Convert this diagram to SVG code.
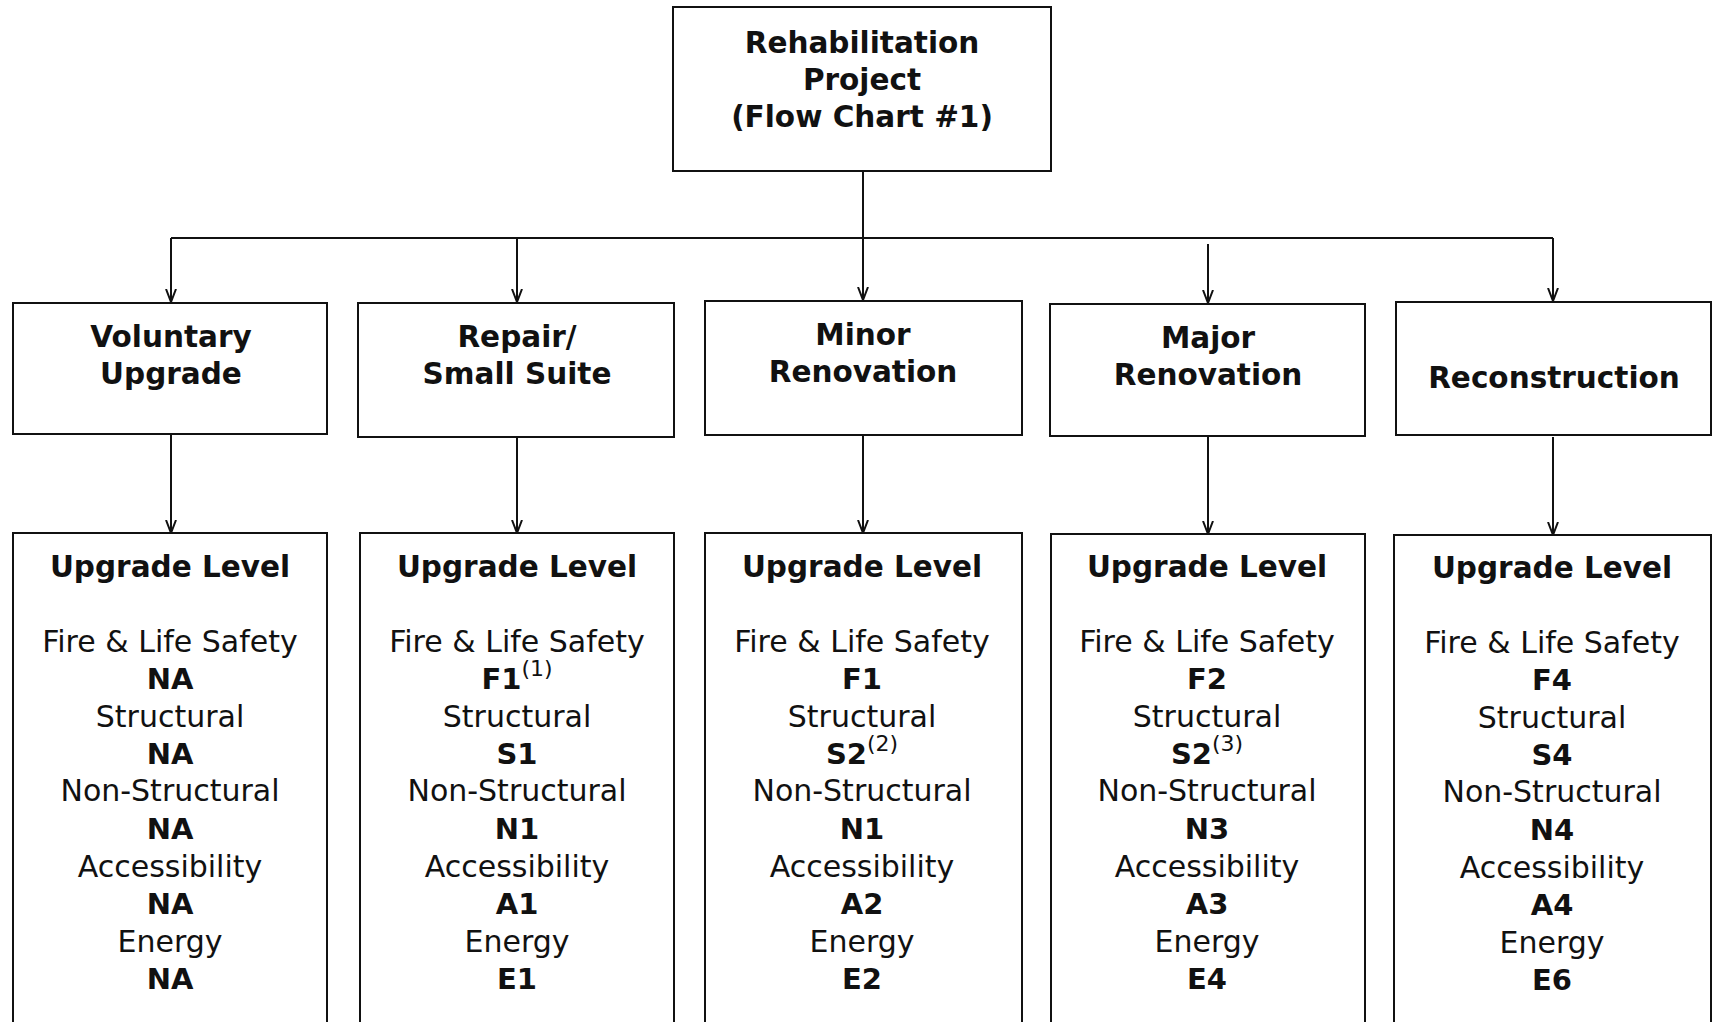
<svg xmlns="http://www.w3.org/2000/svg" width="1712" height="1022" viewBox="0 0 1712 1022">
<style>
.box{fill:#fff;stroke:#111;stroke-width:2}
.t{font-family:"DejaVu Sans","Liberation Sans",sans-serif;font-size:30px;fill:#111;text-anchor:middle}
.b{font-weight:bold;font-size:29px}
.h{font-size:29.5px}
.sup{font-size:22px;font-weight:normal}
.conn{fill:none;stroke:#111;stroke-width:2}
</style>
<defs>
<marker id="arr" markerUnits="userSpaceOnUse" viewBox="0 0 14 12" markerWidth="14" markerHeight="12" refX="13" refY="6" orient="auto">
<path d="M0,1 L13,6 L0,11" fill="none" stroke="#111" stroke-width="2"/>
</marker>
</defs>
<rect width="1712" height="1022" fill="#fff"/>
<g id="connectors">
<line class="conn" x1="863" y1="172" x2="863" y2="300" marker-end="url(#arr)"/>
<line class="conn" x1="171" y1="238" x2="1553" y2="238"/>
<line class="conn" x1="171" y1="238" x2="171" y2="302" marker-end="url(#arr)"/>
<line class="conn" x1="517" y1="238" x2="517" y2="302" marker-end="url(#arr)"/>
<line class="conn" x1="1208" y1="244" x2="1208" y2="303" marker-end="url(#arr)"/>
<line class="conn" x1="1553" y1="238" x2="1553" y2="301" marker-end="url(#arr)"/>
<line class="conn" x1="171" y1="435" x2="171" y2="533" marker-end="url(#arr)"/>
<line class="conn" x1="517" y1="437" x2="517" y2="533" marker-end="url(#arr)"/>
<line class="conn" x1="863" y1="435" x2="863" y2="533" marker-end="url(#arr)"/>
<line class="conn" x1="1208" y1="436" x2="1208" y2="534" marker-end="url(#arr)"/>
<line class="conn" x1="1553" y1="437" x2="1553" y2="535" marker-end="url(#arr)"/>
</g>
<g id="root">
<rect class="box" x="673" y="7" width="378" height="164"/>
<text class="t b h" x="862" y="53">Rehabilitation</text>
<text class="t b h" x="862" y="90">Project</text>
<text class="t b h" x="862" y="127">(Flow Chart #1)</text>
</g>
<g id="voluntary">
<rect class="box" x="13" y="303" width="314" height="131"/>
<text class="t b h" x="171" y="347">Voluntary</text>
<text class="t b h" x="171" y="384">Upgrade</text>
</g>
<g id="repair">
<rect class="box" x="358" y="303" width="316" height="134"/>
<text class="t b h" x="517" y="347">Repair/</text>
<text class="t b h" x="517" y="384">Small Suite</text>
</g>
<g id="minor">
<rect class="box" x="705" y="301" width="317" height="134"/>
<text class="t b h" x="863" y="345">Minor</text>
<text class="t b h" x="863" y="382">Renovation</text>
</g>
<g id="major">
<rect class="box" x="1050" y="304" width="315" height="132"/>
<text class="t b h" x="1208" y="348">Major</text>
<text class="t b h" x="1208" y="385">Renovation</text>
</g>
<g id="reconstruction">
<rect class="box" x="1396" y="302" width="315" height="133"/>
<text class="t b h" x="1554" y="388">Reconstruction</text>
</g>
<g id="level-voluntary">
<rect class="box" x="13" y="533" width="314" height="500"/>
<text class="t b h" x="170" y="577">Upgrade Level</text>
<text class="t" x="170" y="652">Fire &amp; Life Safety</text>
<text class="t b" x="170" y="689">NA</text>
<text class="t" x="170" y="727">Structural</text>
<text class="t b" x="170" y="764">NA</text>
<text class="t" x="170" y="801">Non-Structural</text>
<text class="t b" x="170" y="839">NA</text>
<text class="t" x="170" y="877">Accessibility</text>
<text class="t b" x="170" y="914">NA</text>
<text class="t" x="170" y="952">Energy</text>
<text class="t b" x="170" y="989">NA</text>
</g>
<g id="level-repair">
<rect class="box" x="360" y="533" width="314" height="500"/>
<text class="t b h" x="517" y="577">Upgrade Level</text>
<text class="t" x="517" y="652">Fire &amp; Life Safety</text>
<text class="t b" x="517" y="689">F1<tspan class="sup" dy="-13">(1)</tspan></text>
<text class="t" x="517" y="727">Structural</text>
<text class="t b" x="517" y="764">S1</text>
<text class="t" x="517" y="801">Non-Structural</text>
<text class="t b" x="517" y="839">N1</text>
<text class="t" x="517" y="877">Accessibility</text>
<text class="t b" x="517" y="914">A1</text>
<text class="t" x="517" y="952">Energy</text>
<text class="t b" x="517" y="989">E1</text>
</g>
<g id="level-minor">
<rect class="box" x="705" y="533" width="317" height="500"/>
<text class="t b h" x="862" y="577">Upgrade Level</text>
<text class="t" x="862" y="652">Fire &amp; Life Safety</text>
<text class="t b" x="862" y="689">F1</text>
<text class="t" x="862" y="727">Structural</text>
<text class="t b" x="862" y="764">S2<tspan class="sup" dy="-13">(2)</tspan></text>
<text class="t" x="862" y="801">Non-Structural</text>
<text class="t b" x="862" y="839">N1</text>
<text class="t" x="862" y="877">Accessibility</text>
<text class="t b" x="862" y="914">A2</text>
<text class="t" x="862" y="952">Energy</text>
<text class="t b" x="862" y="989">E2</text>
</g>
<g id="level-major">
<rect class="box" x="1051" y="534" width="314" height="500"/>
<text class="t b h" x="1207" y="577">Upgrade Level</text>
<text class="t" x="1207" y="652">Fire &amp; Life Safety</text>
<text class="t b" x="1207" y="689">F2</text>
<text class="t" x="1207" y="727">Structural</text>
<text class="t b" x="1207" y="764">S2<tspan class="sup" dy="-13">(3)</tspan></text>
<text class="t" x="1207" y="801">Non-Structural</text>
<text class="t b" x="1207" y="839">N3</text>
<text class="t" x="1207" y="877">Accessibility</text>
<text class="t b" x="1207" y="914">A3</text>
<text class="t" x="1207" y="952">Energy</text>
<text class="t b" x="1207" y="989">E4</text>
</g>
<g id="level-reconstruction">
<rect class="box" x="1394" y="535" width="317" height="500"/>
<text class="t b h" x="1552" y="578">Upgrade Level</text>
<text class="t" x="1552" y="653">Fire &amp; Life Safety</text>
<text class="t b" x="1552" y="690">F4</text>
<text class="t" x="1552" y="728">Structural</text>
<text class="t b" x="1552" y="765">S4</text>
<text class="t" x="1552" y="802">Non-Structural</text>
<text class="t b" x="1552" y="840">N4</text>
<text class="t" x="1552" y="878">Accessibility</text>
<text class="t b" x="1552" y="915">A4</text>
<text class="t" x="1552" y="953">Energy</text>
<text class="t b" x="1552" y="990">E6</text>
</g>
</svg>
